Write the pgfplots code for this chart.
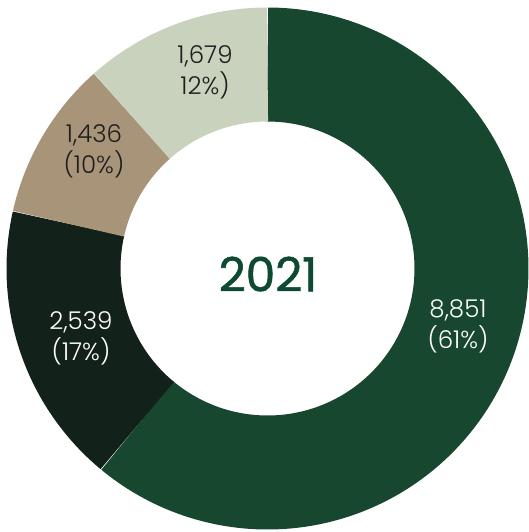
\documentclass[border=0pt]{standalone}
\usepackage{pgfplots}
\usepackage{pgfplotstable}
\pgfplotsset{compat=1.18}
\usepackage{fontspec}
\setmainfont{Poppins}
\newfontfamily\pyear{Poppins}[FakeBold=1.3]
\newfontfamily\plight{Poppins Light}
\definecolor{cA}{HTML}{18472F}
\definecolor{cB}{HTML}{13211B}
\definecolor{cC}{HTML}{A89579}
\definecolor{cD}{HTML}{C8D2BC}
\definecolor{cT}{HTML}{0E4A32}
\definecolor{cL}{HTML}{1E1E1E}
\pgfplotstableread{
label value
A 8851
B 2539
C 1436
D 1679
}\piedata
\begin{document}
\begin{tikzpicture}
\pgfplotstablegetelem{0}{value}\of\piedata \let\va\pgfplotsretval
\pgfplotstablegetelem{1}{value}\of\piedata \let\vb\pgfplotsretval
\pgfplotstablegetelem{2}{value}\of\piedata \let\vc\pgfplotsretval
\pgfplotstablegetelem{3}{value}\of\piedata \let\vd\pgfplotsretval
\pgfmathsetmacro\vt{\va+\vb+\vc+\vd}
\pgfmathsetmacro\aA{90-360*(\va/\vt)}
\pgfmathsetmacro\aB{\aA-360*(\vb/\vt)}
\pgfmathsetmacro\aC{\aB-360*(\vc/\vt)}
\begin{axis}[hide axis, scale only axis, width=528bp, height=532bp,
  xmin=0, xmax=528, ymin=0, ymax=532, y dir=reverse, clip=false]
\def\cx{267.5}\def\cy{268.5}\def\rm{204}
\addplot[draw=cA, line width=114bp, domain=\aA:90, samples=180, line join=round]
  ({\cx+\rm*cos(x)},{\cy-\rm*sin(x)});
\addplot[draw=cB, line width=114bp, domain=\aB:\aA, samples=80, line join=round]
  ({\cx+\rm*cos(x)},{\cy-\rm*sin(x)});
\addplot[draw=cC, line width=114bp, domain=\aC:\aB, samples=60, line join=round]
  ({\cx+\rm*cos(x)},{\cy-\rm*sin(x)});
\addplot[draw=cD, line width=114bp, domain=-270:\aC, samples=60, line join=round]
  ({\cx+\rm*cos(x)},{\cy-\rm*sin(x)});
\node[text=cT, font=\pyear\fontsize{47bp}{50bp}\selectfont] at (axis cs:268,274) {2021};
\node[text=white, align=center, font=\plight\fontsize{24.5bp}{31bp}\selectfont] at (axis cs:458,326) {8,851\\(61\%)};
\node[text=white, align=center, font=\plight\fontsize{24.5bp}{31bp}\selectfont] at (axis cs:81,338) {2,539\\(17\%)};
\node[text=cL, align=center, font=\plight\fontsize{24.5bp}{31bp}\selectfont] at (axis cs:94,151) {1,436\\(10\%)};
\node[text=cL, align=center, font=\plight\fontsize{24.5bp}{31bp}\selectfont] at (axis cs:205,72) {1,679\\12\%)};
\end{axis}
\path (current axis.south west) rectangle (current axis.north east);
\end{tikzpicture}
\end{document}
